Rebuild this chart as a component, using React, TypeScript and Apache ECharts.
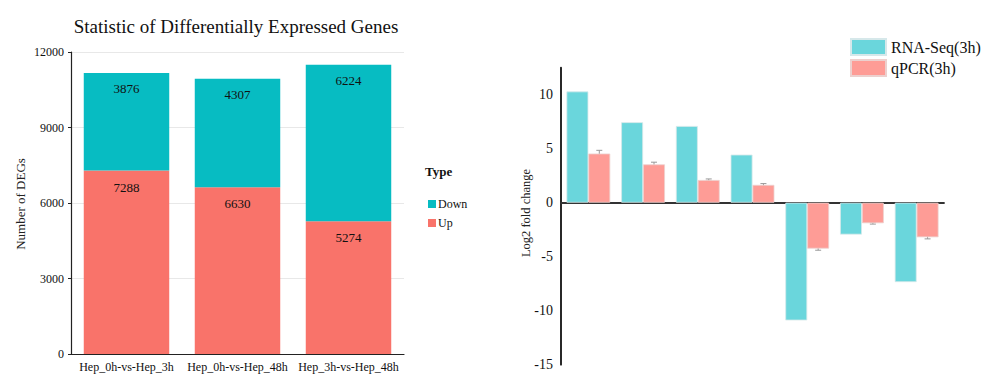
import React, { useEffect, useRef } from "react";
import * as echarts from "echarts";

const degCategories = ["Hep_0h-vs-Hep_3h", "Hep_0h-vs-Hep_48h", "Hep_3h-vs-Hep_48h"];
const upCounts = [7288, 6630, 5274];
const downCounts = [3876, 4307, 6224];
const degTicks = { min: 0, max: 12000, interval: 3000 };

const genes = ["g1", "g2", "g3", "g4", "g5", "g6", "g7"];
const rnaSeq = [10.3, 7.45, 7.1, 4.45, -10.9, -2.95, -7.35];
const qpcr = [4.55, 3.55, 2.1, 1.65, -4.25, -1.9, -3.2];
const qpcrErr = [0.3, 0.2, 0.1, 0.12, 0.15, 0.08, 0.15];

const SERIF = "Liberation Serif";

export default function App() {
  const ref = useRef<HTMLDivElement>(null);
  useEffect(() => {
    if (!ref.current) return;
    const chart = echarts.init(ref.current, null, { renderer: "svg" });
    const option: any = {
      animation: false,
      backgroundColor: "#fff",
      textStyle: { fontFamily: SERIF },
      graphic: [
        {
          type: "text",
          x: 236,
          y: 26,
          style: {
            text: "Statistic of Differentially Expressed Genes",
            fontFamily: SERIF,
            fontSize: 19,
            fill: "#111",
            textAlign: "center",
            textVerticalAlign: "middle",
          },
        },
        {
          type: "text",
          x: 20,
          y: 204,
          rotation: Math.PI / 2,
          style: {
            text: "Number of DEGs",
            fontFamily: SERIF,
            fontSize: 13,
            fill: "#222",
            textAlign: "center",
            textVerticalAlign: "middle",
          },
        },
        {
          type: "text",
          x: 425,
          y: 171,
          style: {
            text: "Type",
            fontFamily: SERIF,
            fontSize: 13,
            fontWeight: "bold",
            fill: "#111",
            textAlign: "left",
            textVerticalAlign: "middle",
          },
        },
        {
          type: "text",
          x: 526,
          y: 213,
          rotation: Math.PI / 2,
          style: {
            text: "Log2 fold change",
            fontFamily: SERIF,
            fontSize: 12.5,
            fill: "#222",
            textAlign: "center",
            textVerticalAlign: "middle",
          },
        },
      ],
      legend: [
        {
          data: ["Down", "Up"],
          orient: "vertical",
          left: 423,
          top: 193,
          icon: "rect",
          itemWidth: 8,
          itemHeight: 8,
          itemGap: 7,
          textStyle: { fontFamily: SERIF, fontSize: 12, color: "#111", padding: [0, 0, 0, -3] },
        },
        {
          data: ["RNA-Seq(3h)", "qPCR(3h)"],
          orient: "vertical",
          left: 845,
          top: 33,
          icon: "rect",
          itemWidth: 35,
          itemHeight: 16,
          itemGap: 3,
          textStyle: { fontFamily: SERIF, fontSize: 16, color: "#111" },
        },
      ],
      grid: [
        { left: 71, right: 577, top: 52, bottom: 22, containLabel: false },
        { left: 561, right: 37, top: 67.7, bottom: 11.3, containLabel: false },
      ],
      xAxis: [
        {
          type: "category",
          gridIndex: 0,
          data: degCategories,
          axisLine: { lineStyle: { color: "#222", width: 1.2 } },
          axisTick: { alignWithLabel: true, length: 3, lineStyle: { color: "#222" } },
          axisLabel: { fontFamily: SERIF, fontSize: 12, color: "#111", margin: 7, interval: 0 },
        },
        {
          type: "category",
          gridIndex: 1,
          data: genes,
          axisLine: { onZero: true, lineStyle: { color: "#333", width: 1.8 } },
          axisTick: { show: false },
          axisLabel: { show: false },
        },
      ],
      yAxis: [
        {
          type: "value",
          gridIndex: 0,
          min: degTicks.min,
          max: degTicks.max,
          interval: degTicks.interval,
          axisLine: { show: true, lineStyle: { color: "#222", width: 1.2 } },
          axisTick: { show: true, length: 3, lineStyle: { color: "#222" } },
          splitLine: { show: true, lineStyle: { color: "#e8e8e8", width: 1 } },
          axisLabel: {
            fontFamily: SERIF,
            fontSize: 12,
            color: "#111",
            margin: 7,
            formatter: (v: number) => String(v),
          },
        },
        {
          type: "value",
          gridIndex: 1,
          min: -15,
          max: 12.5,
          interval: 5,
          axisLine: { show: true, lineStyle: { color: "#111", width: 1.8 } },
          axisTick: { show: false },
          splitLine: { show: false },
          axisLabel: {
            fontFamily: SERIF,
            fontSize: 14,
            color: "#111",
            margin: 8,
            showMaxLabel: false,
            formatter: (v: number) => (v % 5 === 0 ? String(v) : ""),
          },
        },
      ],
      series: [
        {
          name: "Up",
          type: "bar",
          stack: "deg",
          xAxisIndex: 0,
          yAxisIndex: 0,
          data: upCounts,
          barCategoryGap: "23%",
          itemStyle: { color: "#F9736A" },
          label: {
            show: true,
            position: "insideTop",
            distance: 10,
            fontFamily: SERIF,
            fontSize: 13,
            color: "#111",
          },
        },
        {
          name: "Down",
          type: "bar",
          stack: "deg",
          xAxisIndex: 0,
          yAxisIndex: 0,
          data: downCounts,
          barCategoryGap: "23%",
          itemStyle: { color: "#07BCC2" },
          label: {
            show: true,
            position: "insideTop",
            distance: 9,
            fontFamily: SERIF,
            fontSize: 13,
            color: "#111",
          },
        },
        {
          name: "RNA-Seq(3h)",
          type: "bar",
          xAxisIndex: 1,
          yAxisIndex: 1,
          data: rnaSeq,
          barGap: "0%",
          barCategoryGap: "20%",
          z: 3,
          itemStyle: { color: "#6AD6DC", borderColor: "#d6e8ea", borderWidth: 0.8 },
        },
        {
          name: "qPCR(3h)",
          type: "bar",
          xAxisIndex: 1,
          yAxisIndex: 1,
          data: qpcr,
          barGap: "0%",
          barCategoryGap: "20%",
          z: 3,
          itemStyle: { color: "#FE9C96", borderColor: "#ecd0ce", borderWidth: 0.8 },
        },
        {
          name: "err",
          type: "custom",
          xAxisIndex: 1,
          yAxisIndex: 1,
          z: 2,
          silent: true,
          data: qpcr.map((v, i) => [i, v, qpcrErr[i]]),
          renderItem: (params: any, api: any) => {
            const idx = api.value(0);
            const v = api.value(1);
            const e = api.value(2);
            const band = api.size([1, 0])[0];
            const c = api.coord([idx, v]);
            const x = c[0] + band * 0.2;
            const hi = api.coord([idx, v + e])[1];
            const lo = api.coord([idx, v - e])[1];
            const style = { stroke: "#999", lineWidth: 1 };
            return {
              type: "group",
              children: [
                { type: "line", shape: { x1: x, y1: hi, x2: x, y2: lo }, style },
                { type: "line", shape: { x1: x - 3, y1: hi, x2: x + 3, y2: hi }, style },
                { type: "line", shape: { x1: x - 3, y1: lo, x2: x + 3, y2: lo }, style },
              ],
            };
          },
        },
      ],
    };
    chart.setOption(option);
    return () => chart.dispose();
  }, []);
  return (
    <div
      ref={ref}
      style={{ position: "fixed", left: 0, top: 0, width: 981, height: 376, background: "#fff" }}
    />
  );
}
